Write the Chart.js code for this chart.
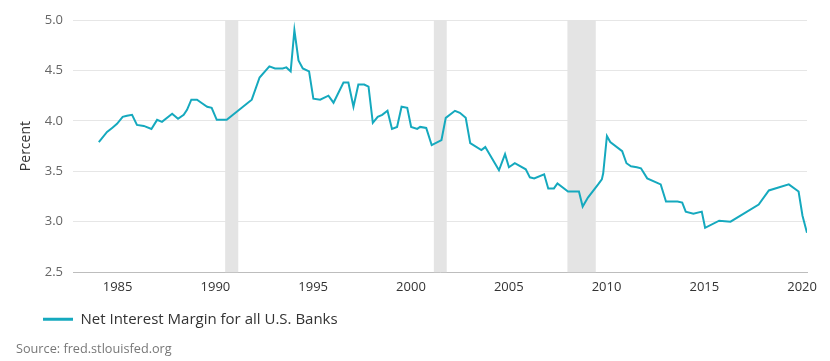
<!DOCTYPE html>
<html><head><meta charset="utf-8">
<script src="https://cdn.jsdelivr.net/npm/chart.js@4.4.1/dist/chart.umd.min.js"></script>
<style>html,body{margin:0;padding:0;background:#fff;} #wrap{width:830px;height:361px;position:relative}</style>
</head><body><div id="wrap"><canvas id="c"></canvas></div>
<script>
const years = [1984.04,1984.46,1984.72,1984.97,1985.26,1985.48,1985.74,1985.99,1986.34,1986.73,
  1987.02,1987.27,1987.79,1988.09,1988.38,1988.55,1988.77,1989.06,1989.28,1989.58,
  1989.81,1990.07,1990.58,1991.86,1992.26,1992.76,1993.05,1993.44,1993.63,1993.85,
  1994.04,1994.25,1994.47,1994.79,1995.01,1995.36,1995.78,1996.04,1996.55,1996.80,
  1997.06,1997.31,1997.61,1997.83,1998.05,1998.30,1998.53,1998.80,1999.03,1999.29,
  1999.52,1999.81,2000.01,2000.32,2000.47,2000.78,2001.06,2001.56,2001.78,2002.25,
  2002.50,2002.80,2003.03,2003.60,2003.80,2004.50,2004.81,2005.01,2005.31,2005.87,
  2006.08,2006.30,2006.81,2007.02,2007.31,2007.49,2008.03,2008.59,2008.78,2009.05,
  2009.57,2009.76,2009.83,2010.02,2010.19,2010.80,2011.02,2011.25,2011.55,2011.76,
  2012.08,2012.77,2013.04,2013.63,2013.87,2014.05,2014.44,2014.87,2015.04,2015.76,
  2016.34,2017.78,2018.30,2019.32,2019.82,2020.02,2020.25];
const nim = [3.79,3.89,3.93,3.97,4.04,4.05,4.06,3.96,3.95,3.92,
  4.01,3.99,4.07,4.02,4.06,4.11,4.21,4.21,4.18,4.14,
  4.13,4.01,4.01,4.21,4.43,4.54,4.52,4.52,4.53,4.49,
  4.90,4.60,4.52,4.49,4.22,4.21,4.25,4.18,4.38,4.38,
  4.14,4.36,4.36,4.34,3.98,4.04,4.06,4.10,3.92,3.94,
  4.14,4.13,3.94,3.92,3.94,3.93,3.76,3.81,4.03,4.10,
  4.08,4.03,3.78,3.71,3.74,3.51,3.67,3.54,3.58,3.52,
  3.44,3.43,3.47,3.33,3.33,3.38,3.30,3.30,3.15,3.24,
  3.37,3.42,3.48,3.85,3.79,3.70,3.58,3.55,3.54,3.53,
  3.43,3.37,3.20,3.20,3.19,3.10,3.08,3.10,2.94,3.01,
  3.00,3.17,3.31,3.37,3.30,3.06,2.89];
const recessionStart = [1990.5, 2001.17, 2008.0];
const recessionEnd = [1991.17, 2001.83, 2009.45];
const xTickYears = [1985,1990,1995,2000,2005,2010,2015,2020];
const yTickValues = [2.5,3.0,3.5,4.0,4.5,5.0];
const seriesLabel = 'Net Interest Margin for all U.S. Banks';
const sourceText = 'Source: fred.stlouisfed.org';

const LINE = '#15a9be';
const FONT = "'Open Sans', sans-serif";

const recessionPlugin = {
  id: 'recessions',
  beforeDatasetsDraw(chart) {
    const {ctx, chartArea, scales} = chart;
    ctx.save();
    ctx.fillStyle = '#e4e4e4';
    for (let i = 0; i < recessionStart.length; i++) {
      const x0 = scales.x.getPixelForValue(recessionStart[i]);
      const x1 = scales.x.getPixelForValue(recessionEnd[i]);
      ctx.fillRect(x0, chartArea.top, x1 - x0, chartArea.bottom - chartArea.top);
    }
    ctx.restore();
  }
};
const legendShift = {
  id: 'legendShift',
  afterLayout(chart) {
    chart.legend.left += 19;
    chart.legend.right += 19;
    chart.titleBlock.left += 2;
    chart.titleBlock.right += 2;
  }
};

new Chart(document.getElementById('c'), {
  type: 'line',
  data: {
    datasets: [{
      label: seriesLabel,
      data: years.map((x, i) => ({x, y: nim[i]})),
      borderColor: LINE,
      backgroundColor: LINE,
      borderWidth: 2,
      pointRadius: 0,
      tension: 0
    }]
  },
  options: {
    responsive: true,
    maintainAspectRatio: false,
    animation: false,
    layout: {padding: {left: 14, right: 23, top: 20, bottom: 3}},
    scales: {
      x: {
        type: 'linear',
        min: 1982.72,
        max: 2020.25,
        afterBuildTicks(scale) { scale.ticks = xTickYears.map(v => ({value: v})); },
        grid: {display: false, drawTicks: false},
        border: {display: true, color: '#bdbdbd', width: 1},
        ticks: {padding: 7, color: '#333', font: {family: FONT, size: 13}, maxRotation: 0, autoSkip: false,
          callback: v => String(v)}
      },
      y: {
        min: 2.5,
        max: 5.0,
        afterBuildTicks(scale) { scale.ticks = yTickValues.map(v => ({value: v})); },
        afterFit(scale) { scale.width = 59; },
        grid: {color: '#e6e6e6', drawTicks: false, lineWidth: 1},
        border: {display: false},
        ticks: {padding: 10, color: '#666', font: {family: FONT, size: 13}, callback: v => v.toFixed(1)},
        title: {display: true, text: 'Percent', color: '#333', font: {family: FONT, size: 14}, padding: {top: 4, bottom: 4}}
      }
    },
    plugins: {
      legend: {
        position: 'bottom',
        align: 'start',
        labels: {
          boxWidth: 30, boxHeight: 3, padding: 10, color: '#333', font: {family: FONT, size: 15},
          generateLabels(chart) {
            const items = Chart.defaults.plugins.legend.labels.generateLabels(chart);
            items.forEach(it => { it.lineWidth = 0; it.fillStyle = LINE; });
            return items;
          }
        }
      },
      title: {
        display: true, text: sourceText, position: 'bottom', align: 'start',
        color: '#777', font: {family: FONT, size: 12.7, weight: 'normal'}, padding: {top: 5, bottom: 1}
      },
      tooltip: {enabled: false}
    }
  },
  plugins: [recessionPlugin, legendShift]
});
</script></body></html>
